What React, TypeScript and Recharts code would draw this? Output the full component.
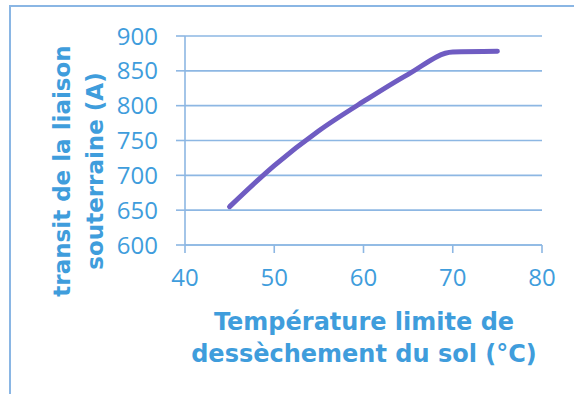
import { CartesianGrid, Line, LineChart, XAxis, YAxis } from "recharts";

const temps = [45, 50, 55, 60, 65, 70, 75];
const transit = [655, 714, 764, 806, 845, 877, 878];
const xTicks = [40, 50, 60, 70, 80];
const yTicks = [600, 650, 700, 750, 800, 850, 900];
const xTitle = ["Température limite de", "dessèchement du sol (°C)"];
const yTitle = ["transit de la liaison", "souterraine (A)"];

const data = temps.map((t, i) => ({ temp: t, transit: transit[i] }));

const BLUE = "#3f9ddc";
const GRID = "#8db7e3";
const FONT = "'Open Sans', 'DejaVu Sans', sans-serif";
const TITLE_FONT = "'DejaVu Sans', Verdana, sans-serif";

function XTitle() {
  return (
    <text textAnchor="middle" fill={BLUE} fontFamily={TITLE_FONT} fontWeight="bold" fontSize={24}>
      <tspan x={364} y={330}>{xTitle[0]}</tspan>
      <tspan x={364} y={362}>{xTitle[1]}</tspan>
    </text>
  );
}

function YTitle() {
  return (
    <g>
      {yTitle.map((line, i) => {
        const x = 70 + i * 33;
        return (
          <text
            key={line}
            x={x}
            y={171}
            transform={`rotate(-90, ${x}, 171)`}
            textAnchor="middle"
            fill={BLUE}
            fontFamily={TITLE_FONT}
            fontWeight="bold"
            fontSize={23}
          >
            {line}
          </text>
        );
      })}
    </g>
  );
}

export default function App() {
  return (
    <div
      style={{
        position: "absolute",
        top: 0,
        left: 0,
        width: 574,
        height: 394,
        overflow: "hidden",
        background: "#fff",
      }}
    >
      <div
        style={{
          position: "absolute",
          left: 9,
          top: 5,
          width: 700,
          height: 500,
          border: "2px solid #8ab6e4",
        }}
      />
      <div style={{ position: "absolute", top: 0, left: 0 }}>
        <LineChart width={574} height={394} data={data} margin={{ top: 36, right: 32, left: 0, bottom: 0 }}>
          <CartesianGrid vertical={false} stroke={GRID} strokeWidth={1.6} />
          <XAxis
            dataKey="temp"
            type="number"
            domain={[40, 80]}
            ticks={xTicks}
            height={149}
            tickSize={8}
            tickMargin={16}
            stroke={GRID}
            strokeWidth={1.6}
            tick={{ fill: BLUE, fontSize: 24, fontFamily: FONT }}
            label={{ content: () => <XTitle /> }}
          />
          <YAxis
            type="number"
            domain={[600, 900]}
            ticks={yTicks}
            width={185}
            tickSize={9}
            tickMargin={18}
            stroke={GRID}
            strokeWidth={1.6}
            tick={{ fill: BLUE, fontSize: 24, fontFamily: FONT }}
            label={{ content: () => <YTitle /> }}
          />
          <Line
            dataKey="transit"
            type="monotone"
            stroke="#6f5cc2"
            strokeWidth={5}
            strokeLinecap="round"
            dot={false}
            isAnimationActive={false}
          />
        </LineChart>
      </div>
    </div>
  );
}
